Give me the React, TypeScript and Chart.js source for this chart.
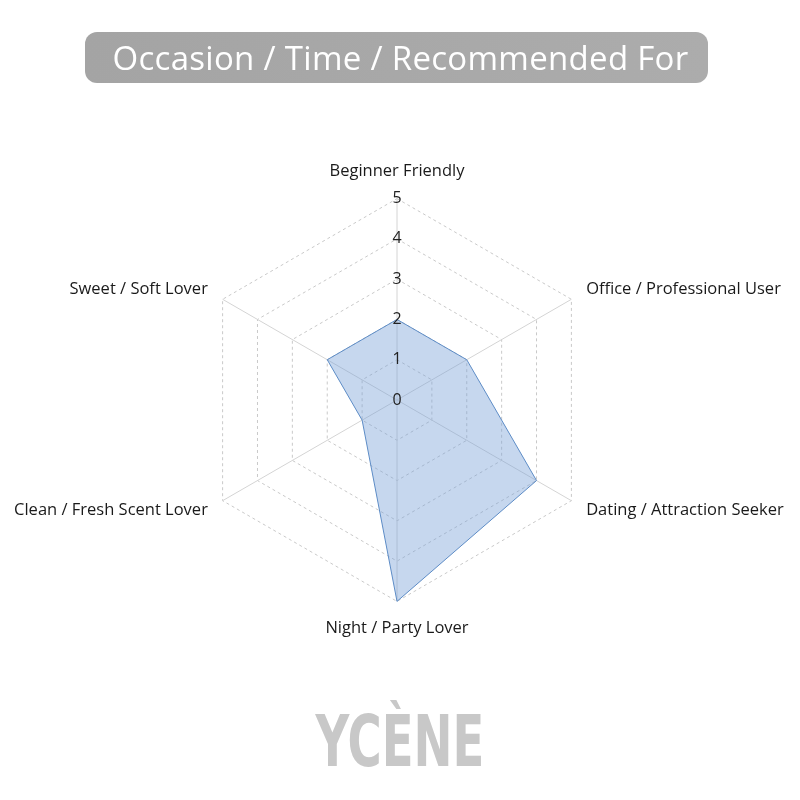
import React, { useEffect, useRef } from "react";
import { Chart, registerables } from "chart.js";

Chart.register(...registerables);

const categories: string[] = [
  "Beginner Friendly",
  "Office / Professional User",
  "Dating / Attraction Seeker",
  "Night / Party Lover",
  "Clean / Fresh Scent Lover",
  "Sweet / Soft Lover",
];
const scores: number[] = [2, 2, 4, 5, 1, 2];
const scaleMin = 0;
const scaleMax = 5;
const tickStep = 1;
const titleText = "Occasion / Time / Recommended For";
const brandText = "YCÈNE";

const FONT = "'Open Sans', 'Noto Sans', sans-serif";

// Chart.js skips the first (zero) tick label on radial scales; draw it via the scale.
const zeroTickPlugin = {
  id: "zeroTick",
  afterDatasetsDraw(chart: any) {
    const scale = chart.scales.r;
    if (!scale) return;
    const first = scale.ticks[0];
    if (!first) return;
    const pos = scale.getPointPositionForValue(0, first.value);
    const ctx = chart.ctx;
    ctx.save();
    ctx.font = `16px ${FONT}`;
    ctx.fillStyle = "#222";
    ctx.textAlign = "center";
    ctx.textBaseline = "middle";
    ctx.fillText(String(first.label), pos.x, pos.y);
    ctx.restore();
  },
};

export default function App() {
  const ref = useRef<HTMLCanvasElement | null>(null);

  useEffect(() => {
    if (!ref.current) return;
    const chart = new Chart(ref.current, {
      type: "radar",
      data: {
        labels: categories,
        datasets: [
          {
            data: scores,
            backgroundColor: "rgba(120,160,215,0.42)",
            borderColor: "#5d8cc6",
            borderWidth: 1,
            pointRadius: 0,
            pointHoverRadius: 0,
          },
        ],
      },
      options: {
        animation: false,
        responsive: false,
        maintainAspectRatio: false,
        layout: { padding: { left: 12, right: 12, top: 0, bottom: 0 } },
        plugins: { legend: { display: false }, tooltip: { enabled: false } },
        scales: {
          r: {
            min: scaleMin,
            max: scaleMax,
            ticks: {
              stepSize: tickStep,
              showLabelBackdrop: false,
              color: "#222",
              font: { family: FONT, size: 16 },
              z: 1,
            },
            grid: {
              color: "#c9c9c9",
              lineWidth: 1,
            },
            border: {
              dash: [3, 3],
            },
            angleLines: {
              color: "#d4d4d4",
              lineWidth: 1,
            },
            pointLabels: {
              color: "#1a1a1a",
              padding: 7,
              font: (ctx: any) => {
                const i = ctx.index;
                const vertical = i === 0 || i === 3;
                return { family: FONT, size: 16.5, lineHeight: vertical ? 1.2 : 0.15 };
              },
            },
          },
        },
      },
      plugins: [zeroTickPlugin],
    });
    return () => chart.destroy();
  }, []);

  return (
    <div
      style={{
        position: "absolute",
        left: 0,
        top: 0,
        width: 800,
        height: 800,
        background: "#fff",
        overflow: "hidden",
      }}
    >
      <canvas
        ref={ref}
        width={800}
        height={800}
        style={{ position: "absolute", left: 0, top: 0, width: 800, height: 800 }}
      />
      <div
        style={{
          position: "absolute",
          left: 85,
          top: 32,
          width: 623,
          height: 51,
          boxSizing: "border-box",
          paddingLeft: 8,
          borderRadius: 12,
          background: "linear-gradient(90deg, #a4a4a4, #acacac)",
          color: "#fff",
          fontFamily: FONT,
          fontSize: 33,
          lineHeight: "51px",
          textAlign: "center",
          letterSpacing: 0.3,
        }}
      >
        {titleText}
      </div>
      <div
        style={{
          position: "absolute",
          left: 200,
          top: 696,
          width: 400,
          height: 90,
          textAlign: "center",
          color: "#c8c8c8",
          fontFamily: "'DejaVu Sans Condensed', 'Liberation Sans Narrow', sans-serif",
          fontWeight: 700,
          fontSize: 72,
          lineHeight: "90px",
          transform: "scaleX(0.72)",
        }}
      >
        {brandText}
      </div>
    </div>
  );
}
